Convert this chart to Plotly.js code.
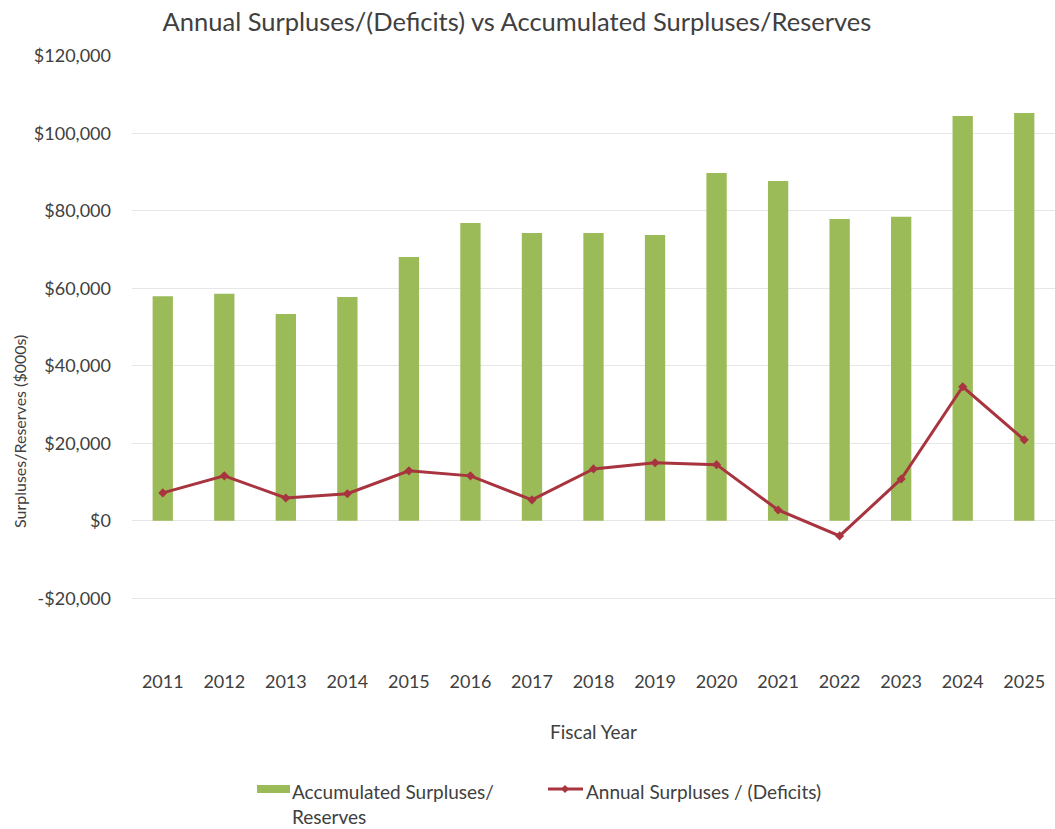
<!DOCTYPE html>
<html>
<head>
<meta charset="utf-8">
<script src="https://cdn.plot.ly/plotly-3.0.1.min.js"></script>
<style>html,body{margin:0;padding:0;background:#fff;}#chart{width:1055px;height:829px;}</style>
</head>
<body>
<div id="chart"></div>
<script>
const years = ["2011","2012","2013","2014","2015","2016","2017","2018","2019","2020","2021","2022","2023","2024","2025"];
const accumulated = [58000, 58600, 53400, 57800, 68100, 76900, 74300, 74300, 73800, 89800, 87700, 77900, 78500, 104500, 105300];
const annual = [7200, 11600, 5900, 7000, 12900, 11600, 5400, 13400, 15000, 14500, 2800, -3900, 10800, 34600, 20900];
const yTicks = [-20000, 0, 20000, 40000, 60000, 80000, 100000, 120000];
const yTickText = yTicks.map(v => (v < 0 ? "-$" : "$") + Math.abs(v).toLocaleString("en-US"));
const seriesNames = ["Accumulated Surpluses/<br>Reserves", "Annual Surpluses / (Deficits)"];
const barColor = "#9BBB59";
const lineColor = "#A8343F";

const fontFam = "Lato, 'Open Sans', sans-serif";
const txt = "#404040";
const W = 1055, H = 829, L = 132, R = 0, T = 56, B = 192;
const pw = W - L - R, ph = H - T - B;
const px = x => (x - L) / pw;
const py = y => (H - B - y) / ph;

const traces = [
  {type: "bar", x: years, y: accumulated, name: seriesNames[0], marker: {color: barColor}},
  {type: "scatter", mode: "lines+markers", x: years, y: annual, name: seriesNames[1],
   line: {color: lineColor, width: 3}, marker: {color: lineColor, size: 7, symbol: "diamond"}}
];
const layout = {
  width: W, height: H,
  margin: {l: L, r: R, t: T, b: B},
  paper_bgcolor: "#fff", plot_bgcolor: "#fff",
  font: {family: fontFam, color: txt, size: 18},
  title: {text: "Annual Surpluses/(Deficits) vs Accumulated Surpluses/Reserves",
          x: 0.49, xanchor: "center", y: 0.973, yanchor: "middle",
          font: {size: 25.5, color: txt, family: fontFam}},
  bargap: 0.67,
  showlegend: false,
  xaxis: {
    type: "category", range: [-0.5, years.length - 0.5],
    showgrid: false, zeroline: false, showline: false, automargin: false,
    ticks: "", ticklabelstandoff: 32,
    tickfont: {size: 18, color: txt},
    title: {text: "Fiscal Year", font: {size: 19, color: txt}, standoff: 34}
  },
  yaxis: {
    range: [-30000, 120000], tickvals: yTicks, ticktext: yTickText, automargin: false,
    showgrid: true, gridcolor: "#E6E6E6", gridwidth: 1,
    zeroline: true, zerolinecolor: "#E6E6E6", zerolinewidth: 1,
    showline: false, ticks: "", ticklabelstandoff: 20,
    tickfont: {size: 18, color: txt}
  },
  shapes: [
    {type: "rect", xref: "paper", yref: "paper", x0: px(257), x1: px(290), y0: py(793), y1: py(785),
     fillcolor: barColor, line: {width: 0}},
    {type: "line", xref: "paper", yref: "paper", x0: px(548), x1: px(583), y0: py(789), y1: py(789),
     line: {color: lineColor, width: 3}},
    {type: "path", xref: "paper", yref: "paper",
     path: "M " + px(565) + " " + py(785) + " L " + px(569) + " " + py(789) + " L " + px(565) + " " + py(793) + " L " + px(561) + " " + py(789) + " Z",
     fillcolor: lineColor, line: {width: 0}}
  ],
  annotations: [
    {text: "Surpluses/Reserves ($000s)", textangle: -90,
     xref: "paper", yref: "paper", x: px(20), y: py(432),
     xanchor: "center", yanchor: "middle", showarrow: false, font: {size: 16, color: txt}},
    {text: seriesNames[0], xref: "paper", yref: "paper", x: px(290), y: py(778),
     xanchor: "left", yanchor: "top", align: "left", showarrow: false, font: {size: 19, color: txt}},
    {text: seriesNames[1], xref: "paper", yref: "paper", x: px(584), y: py(778),
     xanchor: "left", yanchor: "top", align: "left", showarrow: false, font: {size: 19, color: txt}}
  ]
};
Plotly.newPlot("chart", traces, layout, {displayModeBar: false, responsive: false});
</script>
</body>
</html>
